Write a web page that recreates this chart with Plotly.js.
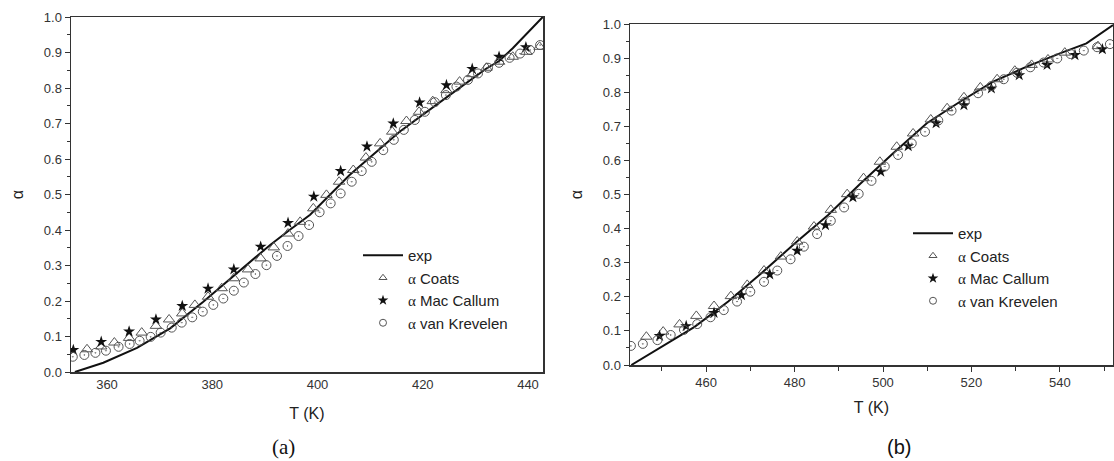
<!DOCTYPE html>
<html>
<head>
<meta charset="utf-8">
<script src="https://cdn.plot.ly/plotly-3.0.1.min.js"></script>
<style>html,body{margin:0;padding:0;background:#fff;}#chart{width:1114px;height:461px;}</style>
</head>
<body>
<div id="chart"></div>
<script>
// ---------- Panel (a) ----------
const aExpT = [353.9, 359.3, 365.7, 372.0, 378.3, 384.7, 391.0, 394.7, 398.6, 406.1, 415.6, 425.1, 432.1, 434.5, 437.1, 442.8];
const aExpA = [0.000, 0.026, 0.068, 0.123, 0.198, 0.280, 0.358, 0.400, 0.443, 0.555, 0.677, 0.780, 0.855, 0.876, 0.912, 1.000];

const aCoatsT = [356.2, 358.9, 361.4, 364.2, 366.6, 369.3, 371.8, 374.3, 376.7, 379.2, 381.8, 384.1, 386.8, 389.2, 391.7, 394.4, 396.7, 399.2, 401.7, 404.1, 406.8, 409.2, 411.9, 414.2, 416.9, 419.3, 421.9, 424.5, 427.0, 429.4, 432.1, 434.5, 437.1, 439.7, 442.2];
const aCoatsA = [0.064, 0.072, 0.083, 0.096, 0.111, 0.130, 0.148, 0.165, 0.189, 0.212, 0.236, 0.264, 0.289, 0.320, 0.351, 0.390, 0.423, 0.461, 0.499, 0.536, 0.569, 0.604, 0.644, 0.677, 0.707, 0.733, 0.763, 0.794, 0.818, 0.839, 0.857, 0.874, 0.888, 0.902, 0.916];

const aMacT = [353.6, 358.9, 364.2, 369.3, 374.3, 379.2, 384.1, 389.2, 394.4, 399.3, 404.4, 409.4, 414.4, 419.4, 424.5, 429.4, 434.5, 439.6];
const aMacA = [0.062, 0.085, 0.114, 0.148, 0.186, 0.235, 0.289, 0.353, 0.420, 0.494, 0.566, 0.635, 0.700, 0.759, 0.808, 0.854, 0.888, 0.915];

const aVkT = [353.5, 355.7, 357.8, 359.8, 362.2, 364.3, 366.2, 368.3, 370.2, 372.3, 374.2, 376.2, 378.2, 380.2, 382.1, 384.1, 386.0, 388.2, 390.3, 392.3, 394.3, 396.4, 398.4, 400.4, 402.5, 404.4, 406.5, 408.4, 410.3, 412.5, 414.5, 416.4, 418.5, 420.4, 422.3, 424.4, 426.4, 428.6, 430.5, 432.4, 434.5, 436.5, 438.5, 440.4, 442.3];
const aVkA = [0.043, 0.048, 0.054, 0.060, 0.071, 0.079, 0.088, 0.099, 0.111, 0.125, 0.139, 0.154, 0.170, 0.189, 0.207, 0.229, 0.252, 0.276, 0.301, 0.327, 0.355, 0.383, 0.414, 0.450, 0.475, 0.503, 0.536, 0.566, 0.592, 0.625, 0.654, 0.682, 0.710, 0.733, 0.760, 0.780, 0.804, 0.823, 0.841, 0.857, 0.871, 0.885, 0.897, 0.907, 0.921];

// ---------- Panel (b) ----------
const bExpT = [443.1, 449.9, 457.4, 465.0, 472.5, 480.1, 487.6, 494.8, 502.3, 509.9, 517.4, 524.9, 532.5, 540.0, 546.0, 552.0];
const bExpA = [0.000, 0.054, 0.112, 0.186, 0.269, 0.357, 0.440, 0.531, 0.621, 0.709, 0.772, 0.831, 0.875, 0.914, 0.943, 0.997];

const bCoatsT = [446.5, 450.3, 454.0, 457.8, 461.8, 465.6, 469.3, 473.1, 476.9, 480.6, 484.4, 488.2, 491.9, 495.6, 499.3, 503.1, 506.8, 510.8, 514.5, 518.3, 522.0, 525.8, 529.8, 533.6, 537.3, 541.1, 548.6];
const bCoatsA = [0.083, 0.098, 0.119, 0.144, 0.173, 0.202, 0.235, 0.277, 0.318, 0.362, 0.406, 0.455, 0.501, 0.548, 0.596, 0.640, 0.679, 0.720, 0.753, 0.785, 0.814, 0.838, 0.863, 0.880, 0.896, 0.916, 0.935];

const bMacT = [449.5, 455.5, 461.8, 468.0, 474.4, 480.6, 487.0, 493.2, 499.5, 505.7, 512.0, 518.3, 524.5, 530.8, 537.1, 543.4, 549.6];
const bMacA = [0.085, 0.114, 0.153, 0.205, 0.266, 0.335, 0.410, 0.492, 0.567, 0.642, 0.709, 0.762, 0.811, 0.850, 0.880, 0.909, 0.926];

const bVkT = [443.0, 445.7, 449.0, 452.0, 455.0, 458.0, 461.0, 464.0, 467.0, 470.0, 473.1, 476.1, 479.1, 482.1, 485.1, 488.2, 491.2, 494.5, 497.4, 500.4, 503.4, 506.5, 509.5, 512.5, 515.5, 518.5, 521.5, 524.5, 527.3, 530.3, 533.3, 536.3, 539.4, 542.4, 545.4, 548.4, 551.3];
const bVkA = [0.056, 0.062, 0.073, 0.088, 0.103, 0.120, 0.140, 0.161, 0.186, 0.215, 0.244, 0.277, 0.310, 0.347, 0.384, 0.423, 0.462, 0.502, 0.540, 0.582, 0.616, 0.650, 0.684, 0.717, 0.746, 0.772, 0.797, 0.818, 0.838, 0.857, 0.873, 0.887, 0.899, 0.912, 0.922, 0.932, 0.941];

// ---------- labels ----------
const seriesNames = ['exp', 'Coats', 'Mac Callum', 'van Krevelen'];
const xTitle = 'T (K)';
const yTitle = 'α';
const captions = ['(a)', '(b)'];

const alpha = '<span style="font-family:\'Liberation Serif\',serif;">α</span>';
const gray = '#555';

function panelTraces(xa, ya, leg, expT, expA, coT, coA, macT, macA, vkT, vkA) {
  const common = {xaxis: xa, yaxis: ya, type: 'scatter', showlegend: false};
  return [
    Object.assign({}, common, {x: expT, y: expA, mode: 'lines', line: {color: '#111', width: 2}}),
    Object.assign({}, common, {x: coT, y: coA, mode: 'markers',
      marker: {symbol: 'triangle-up-open', size: 10, color: gray, line: {width: 1, color: gray}}}),
    Object.assign({}, common, {x: macT, y: macA, mode: 'markers',
      marker: {symbol: 'star', size: 9, color: '#111', line: {width: 0}}}),
    Object.assign({}, common, {x: vkT, y: vkA, mode: 'markers',
      marker: {symbol: 'circle-open-dot', size: 9, color: gray, line: {width: 1, color: gray}}}),
    // legend entries (smaller legend symbols, as in the original figure)
    {x: [null], y: [null], xaxis: xa, yaxis: ya, type: 'scatter', mode: 'lines', name: seriesNames[0],
      legend: leg, line: {color: '#111', width: 2}},
    {x: [null], y: [null], xaxis: xa, yaxis: ya, type: 'scatter', mode: 'markers', name: alpha + ' ' + seriesNames[1],
      legend: leg, marker: {symbol: 'triangle-up-open', size: 7, color: gray, line: {width: 1, color: gray}}},
    {x: [null], y: [null], xaxis: xa, yaxis: ya, type: 'scatter', mode: 'markers', name: alpha + ' ' + seriesNames[2],
      legend: leg, marker: {symbol: 'star', size: 8, color: '#111', line: {width: 0}}},
    {x: [null], y: [null], xaxis: xa, yaxis: ya, type: 'scatter', mode: 'markers', name: alpha + ' ' + seriesNames[3],
      legend: leg, marker: {symbol: 'circle-open', size: 7, color: gray, line: {width: 1, color: gray}}}
  ];
}

const data = [].concat(
  panelTraces('x', 'y', 'legend', aExpT, aExpA, aCoatsT, aCoatsA, aMacT, aMacA, aVkT, aVkA),
  panelTraces('x2', 'y2', 'legend2', bExpT, bExpA, bCoatsT, bCoatsA, bMacT, bMacA, bVkT, bVkA)
);

const W = 1114, H = 461;
const tickFont = {family: 'Liberation Sans, Arial, sans-serif', size: 13, color: '#333'};
const axisBase = {showline: true, mirror: true, linecolor: '#333', linewidth: 1.5,
  showgrid: false, zeroline: false, tickfont: tickFont, tickcolor: '#333', automargin: false};

const legendBase = {xanchor: 'left', yanchor: 'top', bgcolor: 'rgba(0,0,0,0)', borderwidth: 0,
  font: {family: 'Liberation Sans, Arial, sans-serif', size: 15, color: '#222'},
  itemwidth: 40, tracegroupgap: 0};

const layout = {
  width: W, height: H,
  margin: {l: 0, r: 0, t: 0, b: 0},
  paper_bgcolor: '#fff', plot_bgcolor: '#fff',
  font: {family: 'Liberation Sans, Arial, sans-serif', color: '#222'},
  xaxis: Object.assign({}, axisBase, {domain: [71 / W, 543 / W], range: [353.16, 442.85],
    anchor: 'y', tickvals: [360, 380, 400, 420, 440], ticks: '',
    title: {text: xTitle, font: {size: 16, color: '#222'}, standoff: 16}}),
  yaxis: Object.assign({}, axisBase, {domain: [(H - 372) / H, (H - 17) / H], range: [0, 1],
    anchor: 'x', dtick: 0.1, tick0: 0, tickformat: '.1f', ticks: 'outside', ticklen: 5,
    minor: {dtick: 0.05, ticks: 'outside', ticklen: 3, tickcolor: '#333'},
    title: {text: yTitle, font: {size: 16, color: '#222'}, standoff: 16}}),
  xaxis2: Object.assign({}, axisBase, {domain: [630 / W, 1113 / W], range: [442.8, 552.0],
    anchor: 'y2', tickvals: [460, 480, 500, 520, 540], ticks: 'outside', ticklen: 5,
    minor: {tickvals: [450, 470, 490, 510, 530, 550], ticks: 'outside', ticklen: 4, tickcolor: '#333'},
    title: {text: xTitle, font: {size: 16, color: '#222'}, standoff: 12}}),
  yaxis2: Object.assign({}, axisBase, {domain: [(H - 365) / H, (H - 24) / H], range: [0, 1],
    anchor: 'x2', dtick: 0.1, tick0: 0, tickformat: '.1f', ticks: 'outside', ticklen: 5,
    minor: {dtick: 0.05, ticks: 'outside', ticklen: 3, tickcolor: '#333'},
    title: {text: yTitle, font: {size: 16, color: '#222'}, standoff: 16}}),
  legend: Object.assign({}, legendBase, {x: 358 / W, y: 1 - 239 / H}),
  legend2: Object.assign({}, legendBase, {x: 908 / W, y: 1 - 217 / H}),
  annotations: [
    {xref: 'paper', yref: 'paper', x: 283 / W, y: 1 - 447 / H, xanchor: 'center', yanchor: 'middle',
      text: captions[0], showarrow: false, font: {family: 'Liberation Serif, Times New Roman, serif', size: 21, color: '#111'}},
    {xref: 'paper', yref: 'paper', x: 899 / W, y: 1 - 447 / H, xanchor: 'center', yanchor: 'middle',
      text: captions[1], showarrow: false, font: {family: 'Liberation Sans, Arial, sans-serif', size: 20, color: '#111'}}
  ]
};

Plotly.newPlot('chart', data, layout, {displayModeBar: false, staticPlot: true});
</script>
</body>
</html>
